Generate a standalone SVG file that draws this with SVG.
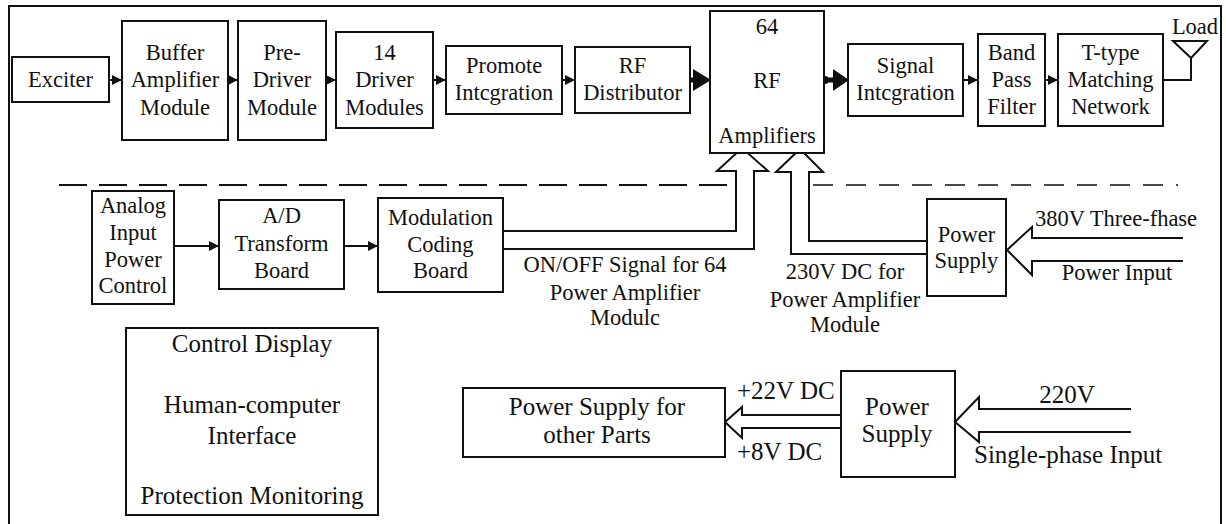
<svg xmlns="http://www.w3.org/2000/svg" width="1226" height="524" viewBox="0 0 1226 524">
<style>
  .box{fill:#fff;stroke:#111;stroke-width:2}
  .t{font-family:"Liberation Serif","Times New Roman",serif;font-size:22.5px;fill:#111;text-anchor:middle}
  .b{font-size:25px}
  .s{text-anchor:start}
  .ln{fill:none;stroke:#111;stroke-width:2}
  .ha{fill:none;stroke:#111;stroke-width:2;stroke-linejoin:miter}
</style>
<defs>
  <marker id="ah" markerUnits="userSpaceOnUse" markerWidth="10" markerHeight="10" refX="9" refY="5" orient="auto">
    <path d="M0,0 L10,5 L0,10 z" fill="#111"/>
  </marker>
</defs>
<rect width="1226" height="524" fill="#fff"/>
<path d="M9,524 V6 H1221 V524" fill="none" stroke="#111" stroke-width="2"/>

<g id="connectors">
  <line class="ln" x1="109" y1="80" x2="121" y2="80" marker-end="url(#ah)"/>
  <line class="ln" x1="228" y1="80" x2="237" y2="80" marker-end="url(#ah)"/>
  <line class="ln" x1="326" y1="80" x2="335" y2="80" marker-end="url(#ah)"/>
  <line class="ln" x1="433" y1="80" x2="445" y2="80" marker-end="url(#ah)"/>
  <line class="ln" x1="562" y1="80" x2="574" y2="80" marker-end="url(#ah)"/>
  <line class="ln" x1="963" y1="80" x2="977" y2="80" marker-end="url(#ah)"/>
  <line class="ln" x1="1045" y1="80" x2="1057" y2="80" marker-end="url(#ah)"/>
  <circle cx="687" cy="80" r="4" fill="#111"/>
  <line x1="687" y1="80" x2="695" y2="80" stroke="#111" stroke-width="5"/>
  <polygon points="693,69 711,80 693,91" fill="#111"/>
  <circle cx="825" cy="80" r="4" fill="#111"/>
  <line x1="825" y1="80" x2="835" y2="80" stroke="#111" stroke-width="5"/>
  <polygon points="833,69 849,80 833,91" fill="#111"/>
  <polyline class="ln" points="1163,80 1191,80 1191,58"/>
  <polygon points="1173,41 1207,41 1191,58" fill="none" stroke="#111" stroke-width="2"/>
  <line x1="59" y1="185" x2="736" y2="185" stroke="#111" stroke-width="2" stroke-dasharray="28 12"/>
  <line x1="813" y1="185" x2="1178" y2="185" stroke="#111" stroke-width="1.5" stroke-dasharray="20 13"/>
  <line class="ln" x1="174" y1="246" x2="218" y2="246" marker-end="url(#ah)"/>
  <line class="ln" x1="344" y1="246" x2="377" y2="246" marker-end="url(#ah)"/>
  <path class="ha" d="M503,231 H736 V171 H717 L742,148 L768,171 H754 V249 H503"/>
  <path class="ha" d="M927,241 H809 V172 H823 L800,149 L776,172 H791 V254 H927"/>
  <path class="ha" d="M1183,238 H1032 V227 L1007,250 L1032,275 V261 H1183"/>
  <path class="ha" d="M841,415 H742 V407 L725,422 L742,438 V428 H841"/>
  <path class="ha" d="M1131,409 H979 V397 L955,422 L979,442 V432 H1131"/>
</g>

<g id="exciter"><rect class="box" x="12" y="57" width="97" height="45"/><text class="t" x="60.5" y="87">Exciter</text></g>
<g id="buffer"><rect class="box" x="122" y="21" width="106" height="119"/>
  <text class="t" x="175" y="60">Buffer</text><text class="t" x="175" y="87">Amplifier</text><text class="t" x="175" y="115">Module</text></g>
<g id="predriver"><rect class="box" x="238" y="21" width="88" height="119"/>
  <text class="t" x="282" y="60">Pre-</text><text class="t" x="282" y="87">Driver</text><text class="t" x="282" y="115">Module</text></g>
<g id="driver14"><rect class="box" x="336" y="32" width="97" height="96"/>
  <text class="t" x="384.5" y="60">14</text><text class="t" x="384.5" y="87">Driver</text><text class="t" x="384.5" y="115">Modules</text></g>
<g id="promote"><rect class="box" x="446" y="46" width="116" height="68"/>
  <text class="t" x="504" y="73">Promote</text><text class="t" x="504" y="100">Intcgration</text></g>
<g id="rfdist"><rect class="box" x="575" y="47" width="115" height="66"/>
  <text class="t" x="632.5" y="73">RF</text><text class="t" x="632.5" y="100">Distributor</text></g>
<g id="rfamp"><rect class="box" x="710" y="11" width="114" height="142"/>
  <text class="t" x="767" y="34">64</text><text class="t" x="767" y="88">RF</text><text class="t" x="767" y="143">Amplifiers</text></g>
<g id="signal"><rect class="box" x="848" y="44" width="115" height="72"/>
  <text class="t" x="905.5" y="73">Signal</text><text class="t" x="905.5" y="100">Intcgration</text></g>
<g id="bpf"><rect class="box" x="978" y="34" width="67" height="92"/>
  <text class="t" x="1011.5" y="60">Band</text><text class="t" x="1011.5" y="87">Pass</text><text class="t" x="1011.5" y="114">Filter</text></g>
<g id="ttype"><rect class="box" x="1058" y="34" width="105" height="92"/>
  <text class="t" x="1110.5" y="60">T-type</text><text class="t" x="1110.5" y="87">Matching</text><text class="t" x="1110.5" y="114">Network</text></g>
<g id="load"><text class="t" x="1195" y="34">Load</text></g>

<g id="analog"><rect class="box" x="92" y="191" width="82" height="113"/>
  <text class="t" x="133" y="213">Analog</text><text class="t" x="133" y="240">Input</text><text class="t" x="133" y="267">Power</text><text class="t" x="133" y="293">Control</text></g>
<g id="adboard"><rect class="box" x="219" y="200" width="125" height="89"/>
  <text class="t" x="281.5" y="223">A/D</text><text class="t" x="281.5" y="251">Transform</text><text class="t" x="281.5" y="278">Board</text></g>
<g id="modulation"><rect class="box" x="378" y="198" width="125" height="94"/>
  <text class="t" x="440.5" y="225">Modulation</text><text class="t" x="440.5" y="252">Coding</text><text class="t" x="440.5" y="278">Board</text></g>
<g id="onoff-label"><text class="t" x="625" y="272">ON/OFF Signal for 64</text><text class="t" x="625" y="300">Power Amplifier</text><text class="t" x="625" y="325">Modulc</text></g>
<g id="dc230-label"><text class="t" x="845" y="279">230V DC for</text><text class="t" x="845" y="307">Power Amplifier</text><text class="t" x="845" y="332">Module</text></g>
<g id="psu1"><rect class="box" x="927" y="199" width="79" height="97"/>
  <text class="t" x="966.5" y="242">Power</text><text class="t" x="966.5" y="268">Supply</text></g>
<g id="in380"><text class="t" x="1116" y="226">380V Three-fhase</text><text class="t" x="1117" y="280">Power Input</text></g>

<g id="control"><rect class="box" x="126" y="328" width="252" height="187"/>
  <text class="t b" x="252" y="352">Control Display</text><text class="t b" x="252" y="413">Human-computer</text><text class="t b" x="252" y="444">Interface</text><text class="t b" x="252" y="504">Protection Monitoring</text></g>
<g id="psother"><rect class="box" x="463" y="388" width="262" height="69"/>
  <text class="t b" x="597" y="415">Power Supply for</text><text class="t b" x="597" y="443">other Parts</text></g>
<g id="dc-labels"><text class="t b s" x="737" y="399">+22V DC</text><text class="t b s" x="737" y="460">+8V DC</text></g>
<g id="psu2"><rect class="box" x="841" y="371" width="114" height="106"/>
  <text class="t b" x="897" y="415">Power</text><text class="t b" x="897" y="442">Supply</text></g>
<g id="in220"><text class="t b" x="1067" y="403">220V</text><text class="t b s" x="974" y="463">Single-phase Input</text></g>
</svg>
